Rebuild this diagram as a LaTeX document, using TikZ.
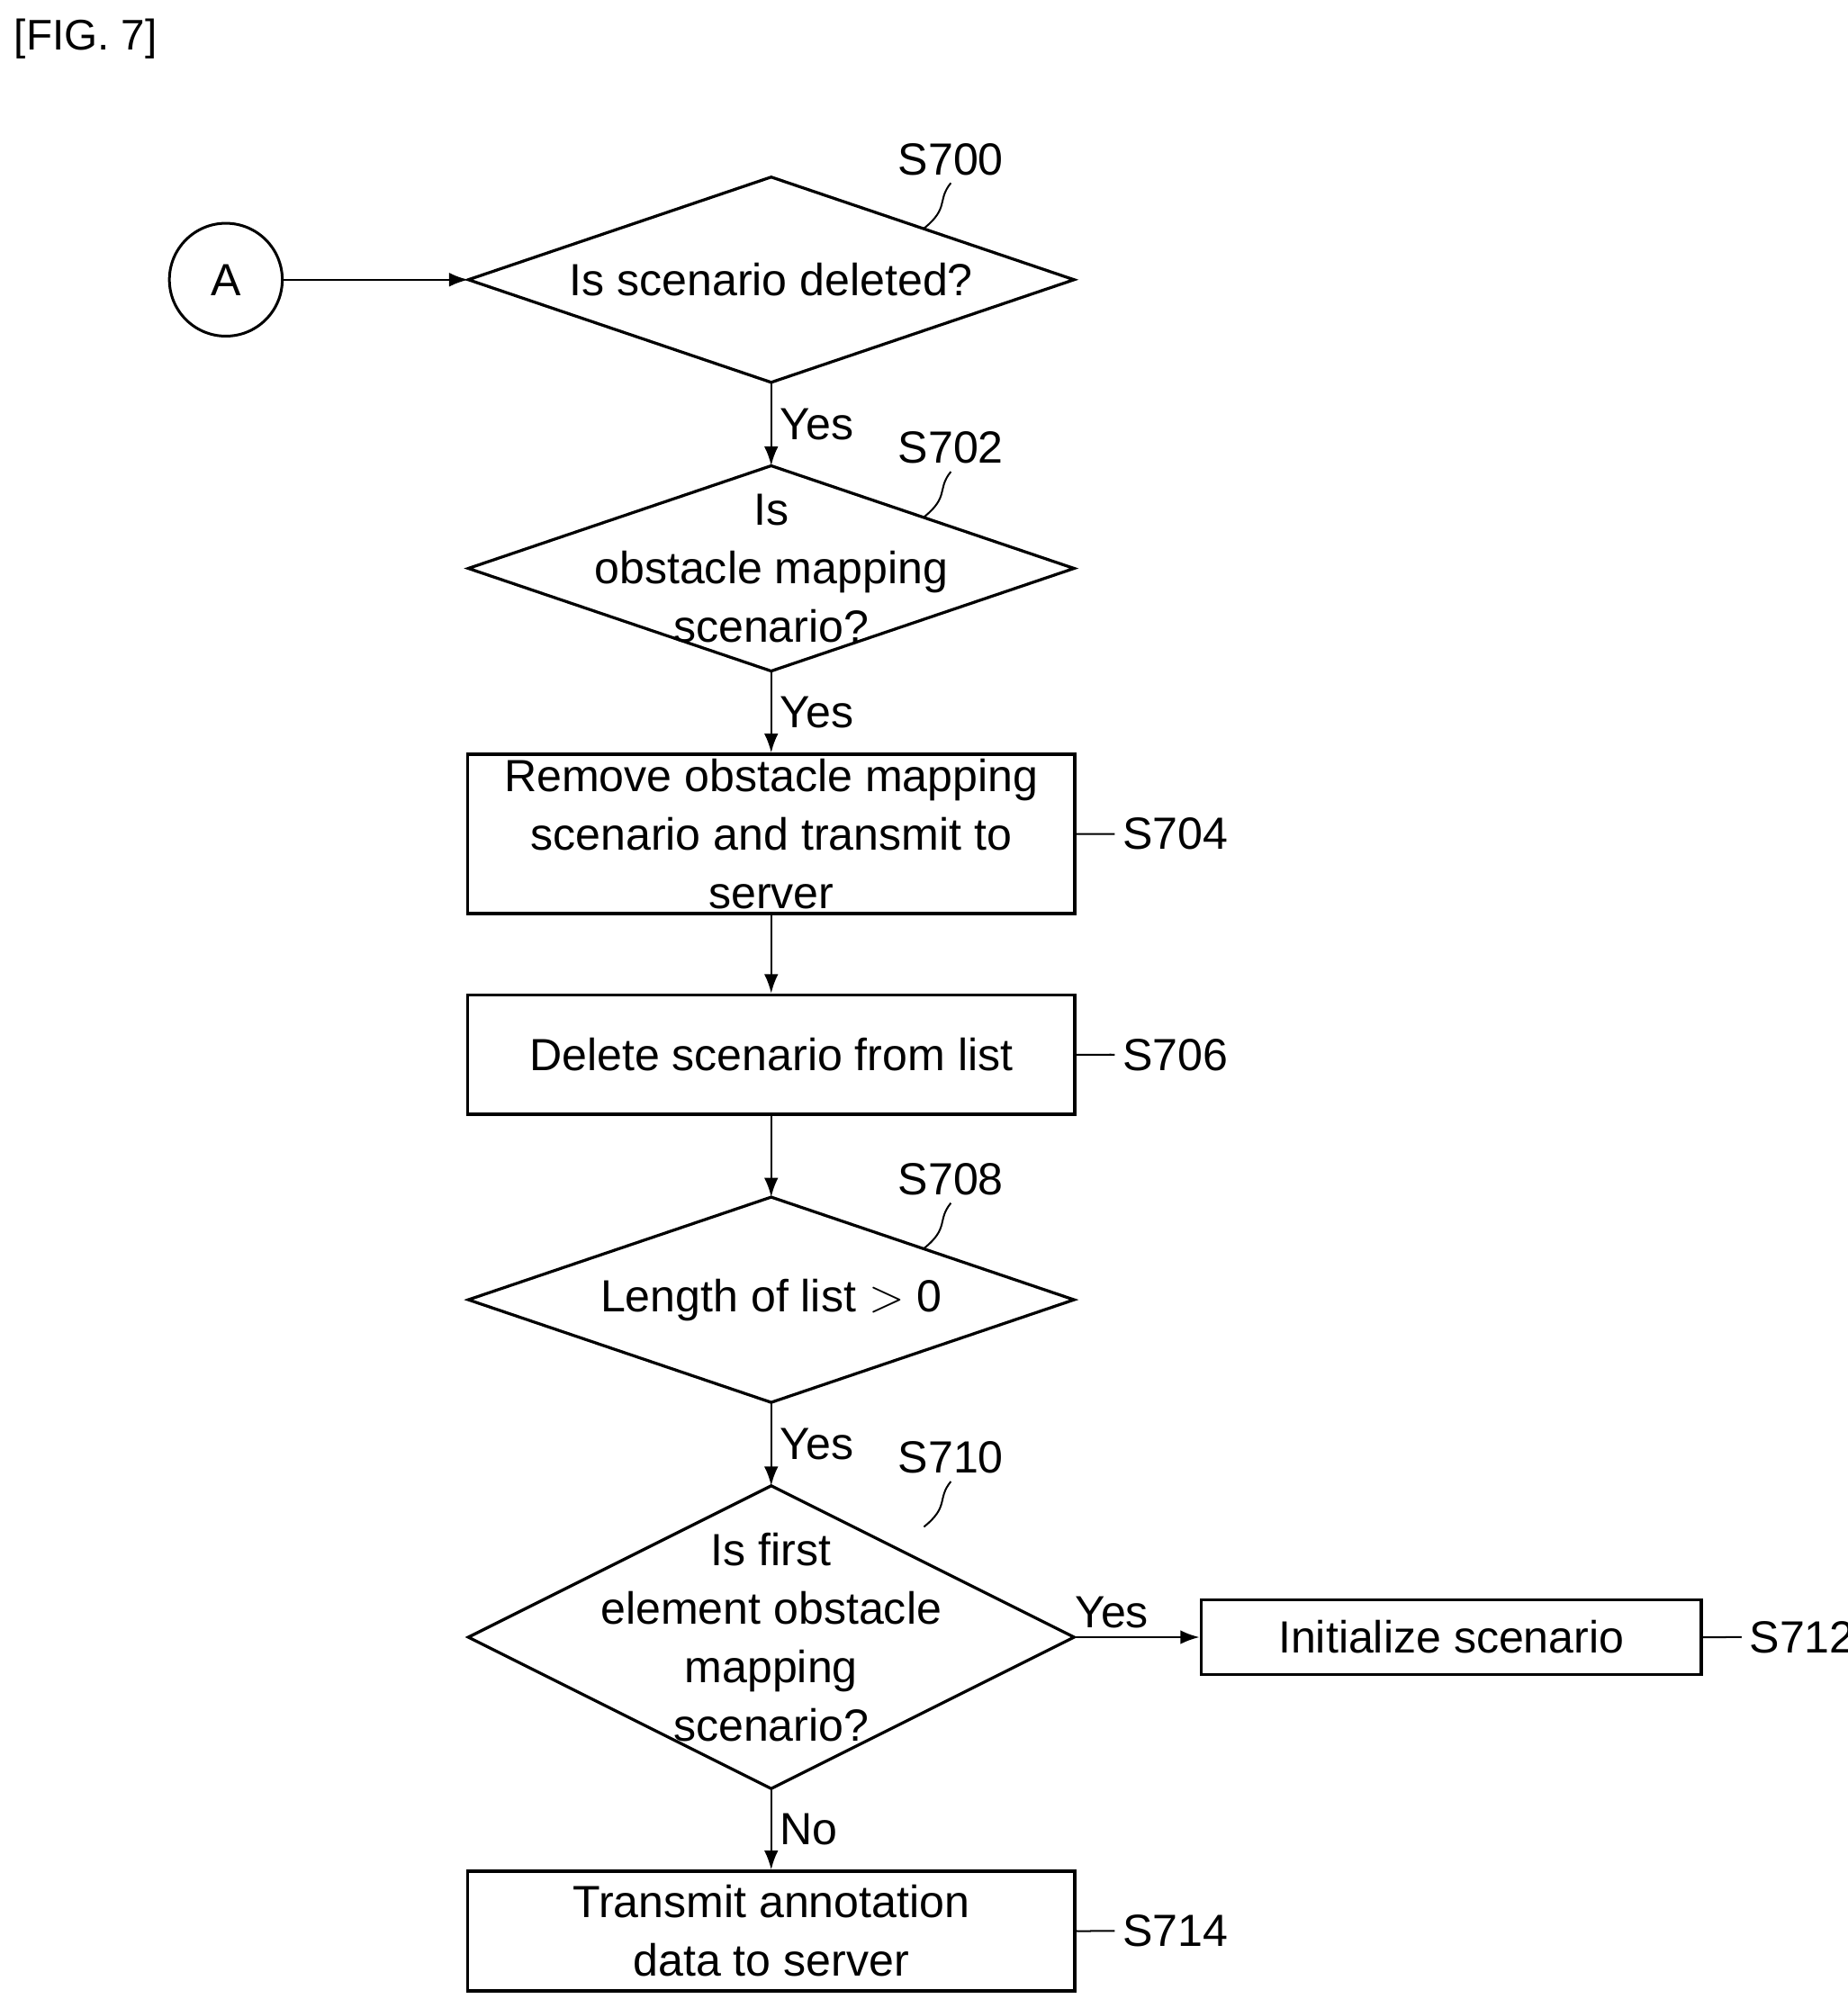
\documentclass[tikz,border=0pt]{standalone}
\usepackage{fontspec}
\setmainfont{Liberation Sans}
\usetikzlibrary{shapes.geometric,arrows.meta,positioning}
\tikzset{
  dec/.style={line width=1.3pt},
  proc/.style={rectangle, draw, line width=1.4pt, inner sep=0pt, minimum width=9.46cm, align=center},
  flow/.style={line width=1pt, -{Latex[length=3mm, width=2.2mm]}},
  tag/.style={font=\fontsize{20}{24}\selectfont},
  yes/.style={font=\fontsize{20}{24}\selectfont, right}
}
% decision: name, x, y, half height, text
\newcommand{\decision}[5]{
  \coordinate (#1-t) at (#2,#3-#4);
  \coordinate (#1-b) at (#2,#3+#4);
  \coordinate (#1-l) at (#2-236,#3);
  \coordinate (#1-r) at (#2+236,#3);
  \draw[dec] (#1-t) -- (#1-r) -- (#1-b) -- (#1-l) -- cycle;
  \node[align=center] (#1) at (#2,#3) {#5};
}
\begin{document}
\begin{tikzpicture}[x=0.02cm, y=-0.02cm, font=\fontsize{20}{26}\selectfont]
  \useasboundingbox (0,0) rectangle (1440,1558);
  \node[font=\fontsize{19}{22}\selectfont, anchor=west] (fig) at (5,30) {[FIG. 7]};

  % nodes
  \node[circle, draw, line width=1.2pt, minimum size=1.76cm, inner sep=0pt] (A) at (176,218) {A};
  \decision{s700}{601}{218}{80}{Is scenario deleted?}
  \decision{s702}{601}{443}{80}{Is\\obstacle mapping\\scenario?}
  \node[proc, minimum height=2.48cm] (s704) at (601,650) {Remove obstacle mapping\\scenario and transmit to\\server};
  \node[proc, minimum height=1.86cm] (s706) at (601,822) {Delete scenario from list};
  \decision{s708}{601}{1013}{80}{Length of list $>$ 0}
  \decision{s710}{601}{1276}{118}{Is first\\element obstacle\\mapping\\scenario?}
  \node[proc, minimum width=7.8cm, minimum height=1.16cm] (s712) at (1131,1276) {Initialize scenario};
  \node[proc, minimum height=1.86cm] (s714) at (601,1505) {Transmit annotation\\data to server};

  % connectors
  \draw[flow] (A) -- (s700-l);
  \draw[flow] (s700-b) -- node[yes] {Yes} (s702-t);
  \draw[flow] (s702-b) -- node[yes] {Yes} (s704);
  \draw[flow] (s704) -- (s706);
  \draw[flow] (s706) -- (s708-t);
  \draw[flow] (s708-b) -- node[yes] {Yes} (s710-t);
  \draw[flow] (s710-r) -- node[yes, above, pos=0.3] {Yes} (s712);
  \draw[flow] (s710-b) -- node[yes] {No} (s714);

  % step labels
  \foreach \n/\y/\t in {s700/218/S700, s702/443/S702, s708/1013/S708, s710/1230/S710} {
    \node[tag] (l\n) at (741,\y-94) {\t};
    \draw[line width=0.8pt] (l\n.south) .. controls (730,\y-62) and (740,\y-56) .. (720,\y-40);
  }
  \foreach \n/\t in {s704/S704, s706/S706, s714/S714, s712/S712} {
    \node[tag, anchor=west, right=0.6cm of \n.east] (l\n) {\t};
    \draw[line width=0.8pt] (\n.east) .. controls +(0.2,0.15) and +(-0.2,-0.15) .. (l\n.west);
  }
\end{tikzpicture}
\end{document}
